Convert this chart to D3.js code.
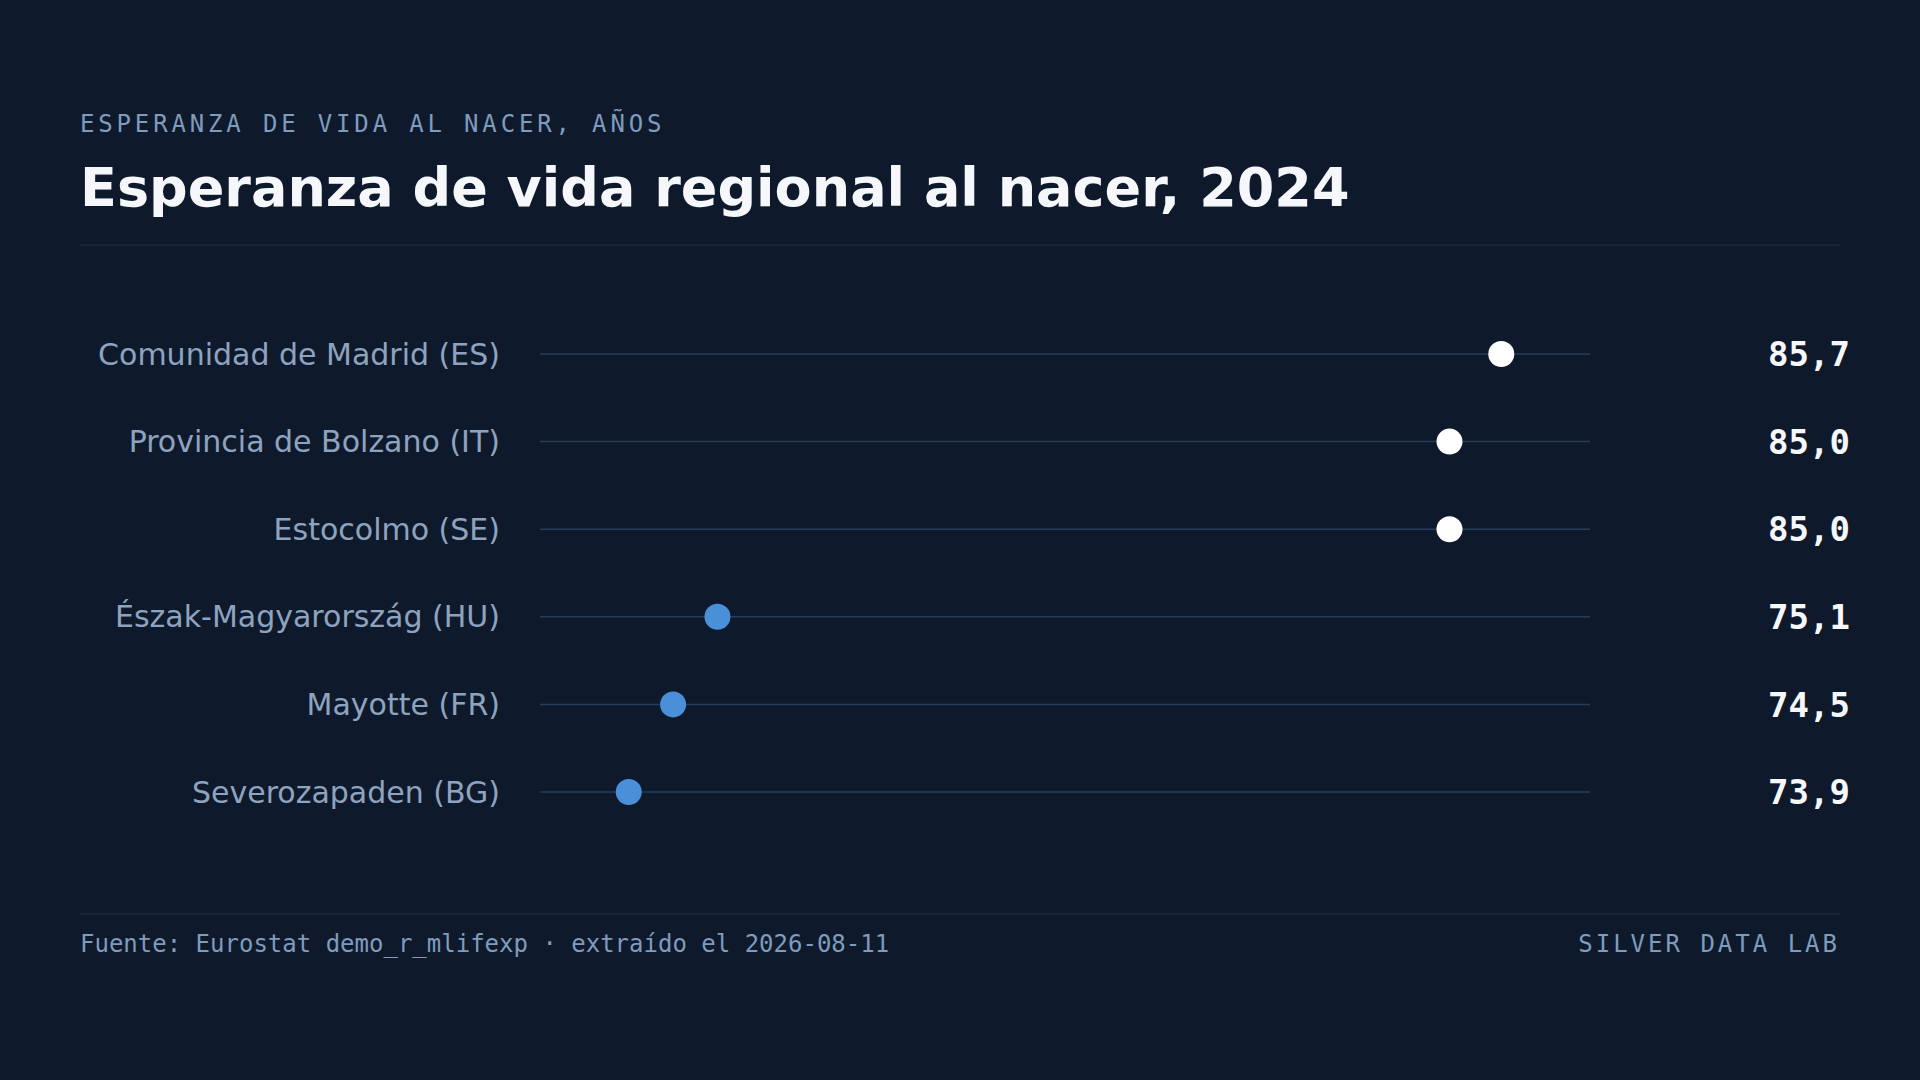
<!DOCTYPE html>
<html>
<head>
<meta charset="utf-8">
<script src="https://cdn.jsdelivr.net/npm/d3@7"></script>
<style>
  html, body { margin: 0; padding: 0; background: #0e1a2b; }
  svg { display: block; }
</style>
</head>
<body>
<svg id="chart"></svg>
<script>
// data
const regions = [
  "Comunidad de Madrid (ES)",
  "Provincia de Bolzano (IT)",
  "Estocolmo (SE)",
  "Észak-Magyarország (HU)",
  "Mayotte (FR)",
  "Severozapaden (BG)"
];
const lifeExp = [85.7, 85.0, 85.0, 75.1, 74.5, 73.9];
const groups = ["top", "top", "top", "bottom", "bottom", "bottom"];

const kicker = "ESPERANZA DE VIDA AL NACER, AÑOS";
const title = "Esperanza de vida regional al nacer, 2024";
const source = "Fuente: Eurostat demo_r_mlifexp · extraído el 2026-08-11";
const brand = "SILVER DATA LAB";

const width = 1920, height = 1080;
const margin = { left: 80, right: 80 };
const mono = "'DejaVu Sans Mono', monospace";
const sans = "'DejaVu Sans', sans-serif";

const rows = regions.map((r, i) => ({ region: r, value: lifeExp[i], group: groups[i] }));

const svg = d3.select("#chart")
  .attr("width", width)
  .attr("height", height);

svg.append("rect")
  .attr("width", width)
  .attr("height", height)
  .attr("fill", "#0e1a2b");

// header
svg.append("text")
  .attr("x", margin.left)
  .attr("y", 132)
  .attr("fill", "#7f9bbd")
  .style("font-family", mono)
  .style("font-size", "24px")
  .style("letter-spacing", "0.16em")
  .text(kicker);

svg.append("text")
  .attr("x", margin.left)
  .attr("y", 206)
  .attr("fill", "#f5f7fa")
  .style("font-family", sans)
  .style("font-weight", "bold")
  .style("font-size", "54px")
  .text(title);

svg.append("line")
  .attr("x1", margin.left)
  .attr("x2", width - margin.right)
  .attr("y1", 245)
  .attr("y2", 245)
  .attr("stroke", "#1a283b")
  .attr("stroke-width", 1.5);

// scales
const ext = d3.extent(lifeExp);
const x = d3.scaleLinear()
  .domain([ext[0] - 1.2, ext[1] + 1.2])
  .range([540, 1590]);

const y = d3.scalePoint()
  .domain(regions)
  .range([354, 792]);

const color = d => d.group === "top" ? "#ffffff" : "#4a90d9";

const plot = svg.append("g");

plot.selectAll(".track")
  .data(rows)
  .join("line")
  .attr("class", "track")
  .attr("x1", x.range()[0])
  .attr("x2", x.range()[1])
  .attr("y1", d => y(d.region))
  .attr("y2", d => y(d.region))
  .attr("stroke", "#263d59")
  .attr("stroke-width", 1.5);

plot.selectAll(".label")
  .data(rows)
  .join("text")
  .attr("class", "label")
  .attr("x", 500)
  .attr("y", d => y(d.region))
  .attr("dy", "0.35em")
  .attr("text-anchor", "end")
  .attr("fill", "#8ea3bf")
  .style("font-family", sans)
  .style("font-size", "30px")
  .text(d => d.region);

plot.selectAll(".dot")
  .data(rows)
  .join("circle")
  .attr("class", "dot")
  .attr("cx", d => x(d.value))
  .attr("cy", d => y(d.region))
  .attr("r", 13)
  .attr("fill", color);

const fmt = v => d3.format(".1f")(v).replace(".", ",");

plot.selectAll(".value")
  .data(rows)
  .join("text")
  .attr("class", "value")
  .attr("x", 1850)
  .attr("y", d => y(d.region))
  .attr("dy", "0.36em")
  .attr("text-anchor", "end")
  .attr("fill", "#f5f7fa")
  .style("font-family", mono)
  .style("font-weight", "bold")
  .style("font-size", "34px")
  .text(d => fmt(d.value));

// footer
svg.append("line")
  .attr("x1", margin.left)
  .attr("x2", width - margin.right)
  .attr("y1", 914)
  .attr("y2", 914)
  .attr("stroke", "#1a283b")
  .attr("stroke-width", 1.5);

svg.append("text")
  .attr("x", margin.left)
  .attr("y", 952)
  .attr("fill", "#7f9bbd")
  .style("font-family", mono)
  .style("font-size", "24px")
  .text(source);

svg.append("text")
  .attr("x", width - margin.right)
  .attr("y", 952)
  .attr("text-anchor", "end")
  .attr("fill", "#7f9bbd")
  .style("font-family", mono)
  .style("font-size", "24px")
  .style("letter-spacing", "0.125em")
  .text(brand);
</script>
</body>
</html>
